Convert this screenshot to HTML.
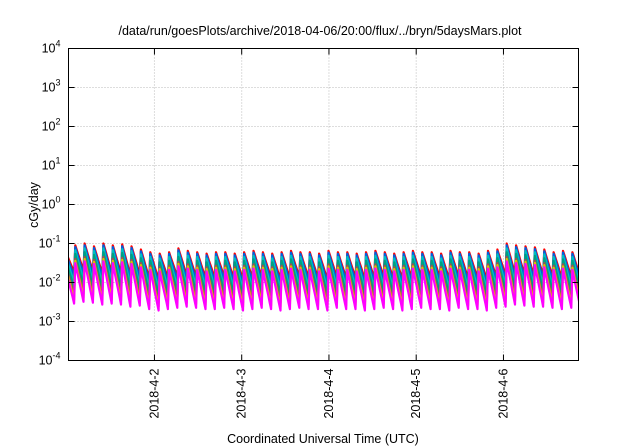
<!DOCTYPE html>
<html><head><meta charset="utf-8"><style>
html,body{margin:0;padding:0;background:#fff;}
svg{display:block;font-family:"Liberation Sans",sans-serif;}
</style></head><body>
<svg id="chart" width="640" height="448" viewBox="0 0 640 448">
<text x="320" y="35" text-anchor="middle" font-size="12.5">/data/run/goesPlots/archive/2018-04-06/20:00/flux/../bryn/5daysMars.plot</text>
<g id="grid"></g>
<g id="series"></g>
<rect x="68.5" y="48.5" width="510" height="312" fill="none" stroke="#000" stroke-width="1"/>
<g id="axes"></g>
<text transform="translate(38,205) rotate(-90)" text-anchor="middle" font-size="12.5">cGy/day</text>
<text x="323" y="443" text-anchor="middle" font-size="12.5">Coordinated Universal Time (UTC)</text>
</svg>
<script>
const yTickExps=[-4,-3,-2,-1,0,1,2,3,4];
const xTickDays=[2,3,4,5,6];
const xTickLabels=["2018-4-2","2018-4-3","2018-4-4","2018-4-5","2018-4-6"];
const seriesColors=["#ff0000","#0060e0","#00c0c0","#00a080","#a05050","#e0c000","#ff00ff"];
const seriesPeakFactor=[1,0.9,0.75,0.6,0.45,0.4,0.35];
const seriesTroughFactor=[1,0.8,0.55,0.4,0.25,0.2,0.16];
const cyclePeaks=[0.06,0.09,0.1,0.085,0.1,0.09,0.095,0.085,0.07,0.06,0.055,0.06,0.075,0.065,0.06,0.055,0.06,0.06,0.055,0.06,0.065,0.06,0.055,0.06,0.065,0.06,0.06,0.055,0.065,0.06,0.06,0.055,0.06,0.065,0.06,0.055,0.06,0.065,0.06,0.06,0.055,0.065,0.06,0.06,0.055,0.065,0.07,0.1,0.09,0.085,0.08,0.07,0.06,0.065,0.06];
const cycleTroughs=[0.018,0.02,0.019,0.017,0.018,0.017,0.015,0.016,0.013,0.012,0.013,0.014,0.015,0.014,0.013,0.013,0.014,0.013,0.012,0.013,0.014,0.013,0.012,0.013,0.014,0.013,0.013,0.012,0.014,0.013,0.013,0.012,0.013,0.014,0.013,0.012,0.013,0.014,0.013,0.013,0.012,0.014,0.013,0.013,0.012,0.014,0.015,0.017,0.016,0.015,0.015,0.014,0.013,0.014,0.013];
const xStart=1.015, xEnd=6.86, cycleStart=0.985, cycleLen=0.1075;
const L=68.5,R=578.5,T=48.5,B=360.5;
const NS="http://www.w3.org/2000/svg";
function xs(d){return L+(d-xStart)/(xEnd-xStart)*(R-L);}
function ys(v){return B-(Math.log10(v)+4)/8*(B-T);}
function mk(t,a,p){const e=document.createElementNS(NS,t);for(const k in a)e.setAttribute(k,a[k]);p.appendChild(e);return e;}
const grid=document.getElementById('grid'),axes=document.getElementById('axes'),sg=document.getElementById('series');
yTickExps.forEach(ex=>{
 const y=ys(Math.pow(10,ex));
 if(ex>-4&&ex<4){const g=mk('line',{x1:L,x2:R,y1:y,y2:y,stroke:'#bbb','stroke-dasharray':'1,2'},grid);
 
 }
 const t1=mk('line',{x1:L,x2:L+6,y1:y,y2:y,stroke:'#000'},axes);
 
 
 const t2=mk('line',{x1:R,x2:R-6,y1:y,y2:y,stroke:'#000'},axes);
 
 
 const tx=mk('text',{x:L-8,y:y+4,'text-anchor':'end','font-size':'12.5'},axes);
 
 
 tx.textContent='10';
 const sup=mk('tspan',{dy:-6,'font-size':'9'},tx);sup.textContent=String(ex);
});
xTickDays.forEach((d,i)=>{
 const x=xs(d);
 const g=mk('line',{x1:x,x2:x,y1:T,y2:B,stroke:'#bbb','stroke-dasharray':'1,2'},grid);
 
 
 const t1=mk('line',{x1:x,x2:x,y1:B,y2:B-6,stroke:'#000'},axes);
 
 
 const t2=mk('line',{x1:x,x2:x,y1:T,y2:T+6,stroke:'#000'},axes);
 
 
 const tx=mk('text',{transform:`translate(${x+4},${B+8}) rotate(-90)`,'text-anchor':'end','font-size':'12.5'},axes);
 
 
 tx.textContent=xTickLabels[i];
});
const cp=mk('clipPath',{id:'clip'},sg);mk('rect',{x:L,y:T,width:R-L,height:B-T},cp);
seriesColors.forEach((c,si)=>{
 let pts=[];
 for(let k=0;k<cyclePeaks.length;k++){
  const t0=cycleStart+k*cycleLen;
  const pk=cyclePeaks[k]*seriesPeakFactor[si], tr=cycleTroughs[k]*seriesTroughFactor[si];
  const prevTr=k>0?cycleTroughs[k-1]*seriesTroughFactor[si]:tr;
  if(k===0)pts.push([t0-0.01,prevTr]);
  pts.push([t0,pk]);
  for(let j=1;j<=6;j++){const f=j/6;pts.push([t0+f*cycleLen*0.88,pk*Math.pow(tr/pk,f)]);}
 }
 const d=pts.map((p,i)=>(i?'L':'M')+xs(p[0]).toFixed(1)+','+ys(p[1]).toFixed(1)).join('');
 const path=mk('path',{d:d,fill:'none',stroke:c,'stroke-width':2.2,'clip-path':'url(#clip)','stroke-linejoin':'round'},sg);
 
 
});
</script>
</body></html>
